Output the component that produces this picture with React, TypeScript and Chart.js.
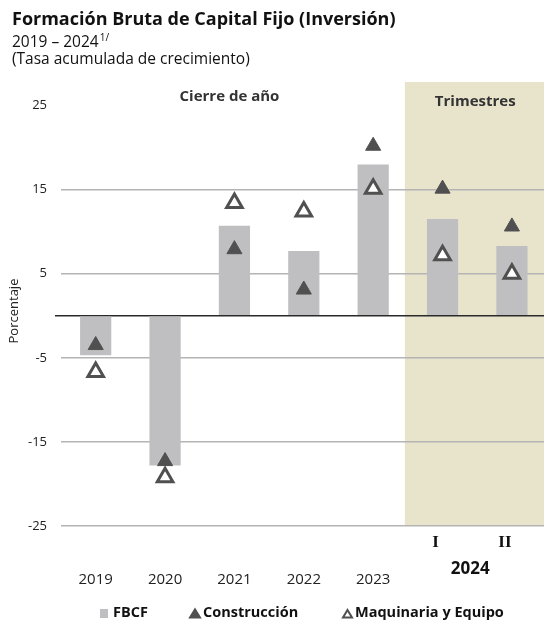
import React, { useEffect, useRef } from "react";
import { Chart, registerables } from "chart.js";

Chart.register(...registerables);

const categories = ["2019", "2020", "2021", "2022", "2023", "I", "II"];
const groupLabel = "2024";
const fbcf = [-4.7, -17.8, 10.7, 7.7, 18.0, 11.5, 8.3];
const construccion = [-3.5, -17.3, 7.9, 3.1, 20.2, 15.1, 10.6];
const maquinaria = [-6.7, -19.2, 13.4, 12.4, 15.1, 7.2, 5.0];
const yTicks = [-25, -15, -5, 0, 5, 15, 25];
const seriesNames = ["FBCF", "Construcción", "Maquinaria y Equipo"];
const sectionNames = ["Cierre de año", "Trimestres"];
const titleText = "Formación Bruta de Capital Fijo (Inversión)";
const subtitleText = "2019 – 2024";
const subtitleSup = "1/";
const noteText = "(Tasa acumulada de crecimiento)";
const yTitle = "Porcentaje";

const FONT = '"Open Sans", "DejaVu Sans", sans-serif';
const BAR = "#bfbfc1";
const MARK = "#505050";
const SHADE = "#e8e4cc";
const TEXT = "#222222";

function tri(ctx: CanvasRenderingContext2D, cx: number, top: number, w: number, h: number) {
  ctx.beginPath();
  ctx.moveTo(cx, top);
  ctx.lineTo(cx + w / 2, top + h);
  ctx.lineTo(cx - w / 2, top + h);
  ctx.closePath();
}

const decorPlugin = {
  id: "decor",
  beforeDraw(chart: any) {
    const { ctx, chartArea, scales } = chart;
    const x = scales.x;
    const start = (x.getPixelForValue(4) + x.getPixelForValue(5)) / 2 - 3;
    ctx.save();
    ctx.fillStyle = SHADE;
    ctx.fillRect(start, chartArea.top, chart.width - start, chartArea.bottom - chartArea.top);
    ctx.restore();
  },
  beforeDatasetsDraw(chart: any) {
    const { ctx, scales } = chart;
    const y0 = scales.y.getPixelForValue(0);
    ctx.save();
    ctx.strokeStyle = "#2a2a2a";
    ctx.lineWidth = 1.6;
    ctx.beginPath();
    ctx.moveTo(55, y0);
    ctx.lineTo(chart.width, y0);
    ctx.stroke();
    ctx.restore();
  },
  afterDraw(chart: any) {
    const { ctx, scales } = chart;
    const x = scales.x;
    ctx.save();
    // Titles
    ctx.fillStyle = "#111";
    ctx.textBaseline = "alphabetic";
    ctx.textAlign = "left";
    ctx.font = `bold 18px ${FONT}`;
    ctx.fillText(titleText, 12, 25);
    ctx.font = `15.5px ${FONT}`;
    ctx.fillText(subtitleText, 12, 46.5);
    const sw = ctx.measureText(subtitleText).width;
    ctx.font = `10px ${FONT}`;
    ctx.fillText(subtitleSup, 12 + sw + 1, 41);
    ctx.font = `15.5px ${FONT}`;
    ctx.fillText(noteText, 12, 64);

    // y-axis title
    ctx.save();
    ctx.translate(14, 311);
    ctx.rotate(-Math.PI / 2);
    ctx.textAlign = "center";
    ctx.textBaseline = "middle";
    ctx.font = `13px ${FONT}`;
    ctx.fillStyle = TEXT;
    ctx.fillText(yTitle, 0, 0);
    ctx.restore();

    // Section headings
    ctx.textAlign = "center";
    ctx.textBaseline = "middle";
    ctx.font = `bold 15px ${FONT}`;
    ctx.fillStyle = "#333";
    ctx.fillText(sectionNames[0], (x.getPixelForValue(0) + x.getPixelForValue(4)) / 2 - 5, 97);
    ctx.fillText(sectionNames[1], (x.getPixelForValue(5) + x.getPixelForValue(6)) / 2 - 2, 102);

    // Category labels
    const qx: number[] = [];
    categories.forEach((c, i) => {
      const px = x.getPixelForValue(i);
      if (i < 5) {
        ctx.font = `15px ${FONT}`;
        ctx.fillStyle = TEXT;
        ctx.fillText(c, px, 580);
      } else {
        ctx.font = `bold 17px "Liberation Serif", "DejaVu Serif", serif`;
        ctx.fillStyle = "#111";
        const lx = px - 7;
        qx.push(lx);
        ctx.fillText(c, lx, 543);
      }
    });
    ctx.font = `bold 17px ${FONT}`;
    ctx.fillStyle = "#111";
    ctx.fillText(groupLabel, (qx[0] + qx[1]) / 2, 569);

    // Legend
    const ly = 613;
    ctx.textAlign = "left";
    ctx.textBaseline = "middle";
    ctx.font = `bold 14.5px ${FONT}`;
    ctx.fillStyle = BAR;
    ctx.fillRect(100, 609, 8, 9);
    ctx.fillStyle = "#111";
    ctx.fillText(seriesNames[0], 113, ly);
    ctx.fillStyle = MARK;
    tri(ctx, 195, 607.5, 13.5, 11);
    ctx.fill();
    ctx.fillStyle = "#111";
    ctx.fillText(seriesNames[1], 203, ly);
    ctx.strokeStyle = MARK;
    ctx.lineWidth = 2;
    ctx.lineJoin = "miter";
    tri(ctx, 347.5, 610, 9, 7.5);
    ctx.fillStyle = "#fff";
    ctx.fill();
    ctx.stroke();
    ctx.fillStyle = "#111";
    ctx.fillText(seriesNames[2], 355, ly);
    ctx.restore();
  },
};

export default function App() {
  const ref = useRef<HTMLCanvasElement | null>(null);
  useEffect(() => {
    document.body.style.margin = "0";
    const canvas = ref.current!;
    const chart = new Chart(canvas, {
      type: "bar",
      data: {
        labels: categories,
        datasets: [
          {
            type: "line",
            label: seriesNames[2],
            data: maquinaria,
            showLine: false,
            pointStyle: "triangle",
            pointRadius: 9,
            pointBorderWidth: 3,
            pointBackgroundColor: "#ffffff",
            pointBorderColor: MARK,
            order: 0,
          } as any,
          {
            type: "line",
            label: seriesNames[1],
            data: construccion,
            showLine: false,
            pointStyle: "triangle",
            pointRadius: 8.7,
            pointBorderWidth: 1,
            pointBackgroundColor: MARK,
            pointBorderColor: MARK,
            order: 1,
          } as any,
          {
            type: "bar",
            label: seriesNames[0],
            data: fbcf,
            backgroundColor: BAR,
            borderWidth: 0,
            barPercentage: 0.45,
            categoryPercentage: 1,
            order: 2,
          },
        ],
      },
      options: {
        responsive: false,
        animation: false,
        devicePixelRatio: 1,
        layout: { autoPadding: false, padding: { top: 82, bottom: 96, left: 0, right: 1.4 } },
        plugins: { legend: { display: false }, tooltip: { enabled: false } },
        scales: {
          x: { display: false, offset: true },
          y: {
            min: -25,
            max: 27.8,
            afterBuildTicks: (s: any) => {
              s.ticks = yTicks.map((v) => ({ value: v }));
            },
            afterFit: (s: any) => {
              s.width = 61;
            },
            border: { display: false },
            grid: {
              drawTicks: false,
              lineWidth: 1.5,
              color: (c: any) =>
                c.tick && (c.tick.value === 0 || c.tick.value === 25) ? "rgba(0,0,0,0)" : "#b4b4b4",
            },
            ticks: {
              padding: 14,
              color: TEXT,
              font: { family: FONT, size: 13 },
              callback: (v: any) => (v === 0 ? "" : String(v)),
            },
          },
        },
      },
      plugins: [decorPlugin],
    } as any);
    return () => chart.destroy();
  }, []);
  return (
    <div style={{ position: "fixed", left: 0, top: 0, width: 544, height: 622, overflow: "hidden", background: "#fff" }}>
      <canvas ref={ref} width={548} height={622} style={{ width: 548, height: 622, display: "block" }} />
    </div>
  );
}
